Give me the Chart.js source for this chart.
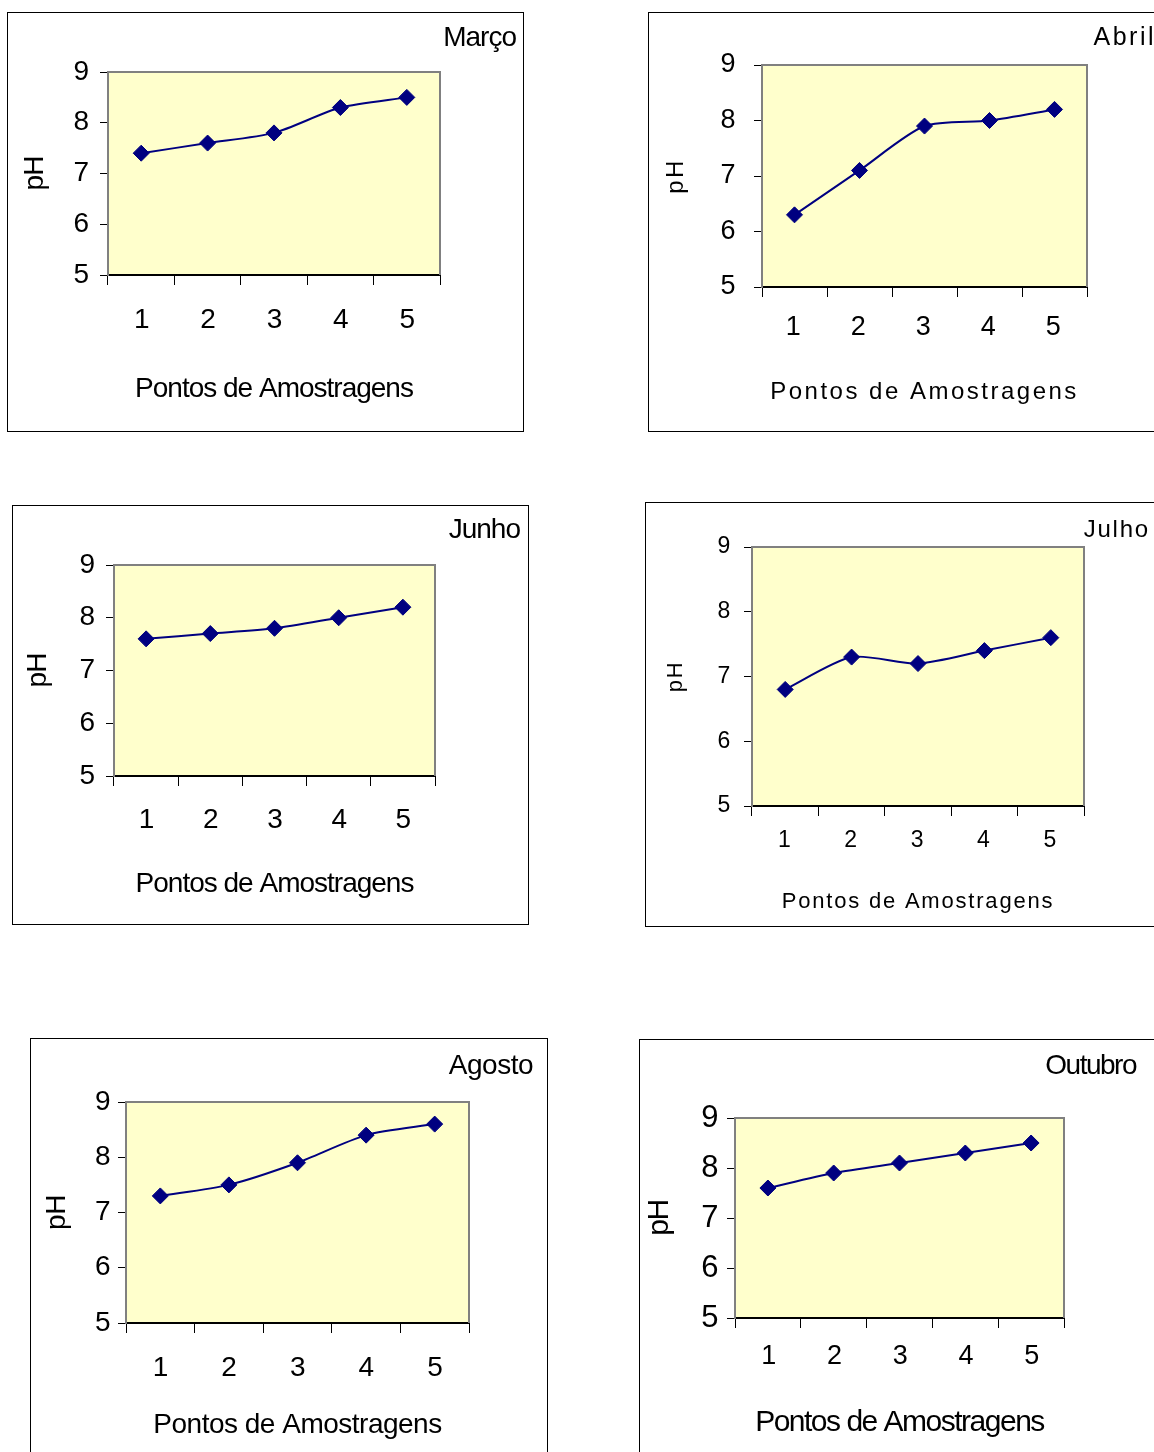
<!DOCTYPE html>
<html>
<head>
<meta charset="utf-8">
<script src="https://cdn.jsdelivr.net/npm/chart.js@4.4.0/dist/chart.umd.min.js"></script>
<style>
html, body { margin: 0; padding: 0; background: #fff; }
body { width: 1154px; height: 1452px; position: relative; overflow: hidden; }
.painel { position: absolute; border: 1px solid #000; box-sizing: border-box; }
.painel canvas { position: absolute; left: -1px; top: -1px; }
</style>
</head>
<body>
<div class="painel" id="p0"><canvas id="c0"></canvas></div>
<div class="painel" id="p1"><canvas id="c1"></canvas></div>
<div class="painel" id="p2"><canvas id="c2"></canvas></div>
<div class="painel" id="p3"><canvas id="c3"></canvas></div>
<div class="painel" id="p4"><canvas id="c4"></canvas></div>
<div class="painel" id="p5"><canvas id="c5"></canvas></div>
<script>
// Dados
const pontos = ["1", "2", "3", "4", "5"];
const meses = ["Março", "Abril", "Junho", "Julho", "Agosto", "Outubro"];
const phMarco = [7.4, 7.6, 7.8, 8.3, 8.5];
const phAbril = [6.3, 7.1, 7.9, 8.0, 8.2];
const phJunho = [7.6, 7.7, 7.8, 8.0, 8.2];
const phJulho = [6.8, 7.3, 7.2, 7.4, 7.6];
const phAgosto = [7.3, 7.5, 7.9, 8.4, 8.6];
const phOutubro = [7.6, 7.9, 8.1, 8.3, 8.5];
const phMin = 5, phMax = 9, phPasso = 1;
const tituloX = "Pontos de Amostragens";
const tituloY = "pH";

const series = [phMarco, phAbril, phJunho, phJulho, phAgosto, phOutubro];

// Layout of each panel (page pixels)
const layouts = [
    { box: [7, 12, 524, 432], area: [108, 72, 440, 275], yTick: 28, xTick: 28, yLabR: 88, xLabY: 320,
      tSize: 28, sp: -1, xTitleY: 389, yTitleX: 35, mRight: 516, mY: 38, mSize: 28 },
    { box: [648, 12, 1170, 432], area: [762, 65, 1087, 287], yTick: 27, xTick: 27, yLabR: 738, xLabY: 328,
      tSize: 24, sp: 2.5, xTitleY: 392, yTitleX: 676, mRight: 1156, mY: 38, mSize: 25 },
    { box: [12, 505, 529, 925], area: [114, 565, 435, 776], yTick: 28, xTick: 28, yLabR: 94, xLabY: 820,
      tSize: 28, sp: -1, xTitleY: 884, yTitleX: 38, mRight: 520, mY: 530, mSize: 28 },
    { box: [645, 502, 1170, 927], area: [752, 547, 1084, 806], yTick: 23, xTick: 23, yLabR: 732, xLabY: 841,
      tSize: 22, sp: 1.8, xTitleY: 902, yTitleX: 676, mRight: 1150, mY: 530, mSize: 24 },
    { box: [30, 1038, 548, 1470], area: [126, 1102, 469, 1323], yTick: 28, xTick: 28, yLabR: 110, xLabY: 1368,
      tSize: 28, sp: -0.5, xTitleY: 1425, yTitleX: 57, mRight: 533, mY: 1066, mSize: 28 },
    { box: [639, 1039, 1170, 1470], area: [735, 1118, 1064, 1318], yTick: 31, xTick: 27, yLabR: 717, xLabY: 1357,
      tSize: 30, sp: -1.5, xTitleY: 1423, yTitleX: 660, mRight: 1136, mY: 1066, mSize: 28 },
];

Chart.defaults.font.family = '"Liberation Sans", Arial, sans-serif';
Chart.defaults.color = "#000";

const fundoPlugin = {
    id: "fundo",
    beforeDraw(chart, args, opts) {
        const { ctx, chartArea: a } = chart;
        ctx.letterSpacing = opts.sp + "px";
        ctx.save();
        ctx.fillStyle = "#FFFFCC";
        ctx.fillRect(a.left, a.top, a.right - a.left, a.bottom - a.top);
        ctx.restore();
    },
    beforeDatasetsDraw(chart) {
        const { ctx, chartArea: a } = chart;
        ctx.save();
        ctx.strokeStyle = "#808080";
        ctx.lineWidth = 2;
        ctx.beginPath();
        ctx.moveTo(a.left, a.top);
        ctx.lineTo(a.right, a.top);
        ctx.lineTo(a.right, a.bottom);
        ctx.stroke();
        ctx.restore();
    },
    afterDraw(chart, args, opts) {
        const ctx = chart.ctx;
        ctx.save();
        ctx.font = opts.mSize + 'px "Liberation Sans", Arial, sans-serif';
        ctx.letterSpacing = opts.sp + "px";
        ctx.fillStyle = "#000";
        ctx.textAlign = "right";
        ctx.textBaseline = "middle";
        ctx.fillText(opts.text, opts.x, opts.y);
        ctx.restore();
    },
};

function montarGrafico(i) {
    const lay = layouts[i];
    const [bl, bt, br, bb] = lay.box;
    const [al, at, ar, ab] = lay.area;
    const painel = document.getElementById("p" + i);
    painel.style.left = bl + "px";
    painel.style.top = bt + "px";
    painel.style.width = br - bl + "px";
    painel.style.height = bb - bt + "px";
    const canvas = document.getElementById("c" + i);
    canvas.width = br - bl;
    canvas.height = bb - bt;

    const xTickLen = 10, yTickLen = 8;

    new Chart(canvas, {
        type: "line",
        data: {
            labels: pontos,
            datasets: [
                {
                    data: series[i],
                    borderColor: "#000080",
                    borderWidth: 2,
                    tension: 0.25,
                    pointStyle: "rectRot",
                    pointRadius: 8,
                    pointBackgroundColor: "#000080",
                    pointBorderColor: "#000080",
                    pointBorderWidth: 1,
                },
            ],
        },
        options: {
            responsive: false,
            animation: false,
            layout: { padding: { left: 0, top: at - bt, right: br - ar, bottom: 0 } },
            plugins: {
                legend: { display: false },
                tooltip: { enabled: false },
                fundo: { sp: lay.sp, text: meses[i], x: lay.mRight - bl, y: lay.mY - bt, mSize: lay.mSize },
            },
            scales: {
                x: {
                    type: "category",
                    offset: true,
                    grid: { offset: true, drawOnChartArea: false, drawTicks: true, tickLength: xTickLen, color: "#000" },
                    border: { display: true, color: "#000", width: 2 },
                    ticks: {
                        font: { size: lay.xTick },
                        color: "#000",
                        maxRotation: 0,
                        autoSkip: false,
                        padding: lay.xLabY - ab - xTickLen - 0.6 * lay.xTick,
                    },
                    title: {
                        display: true,
                        text: tituloX,
                        color: "#000",
                        font: { size: lay.tSize },
                        padding: { top: 0, bottom: bb - lay.xTitleY - 0.6 * lay.tSize },
                    },
                    afterFit: (s) => { s.height = bb - ab; },
                },
                y: {
                    min: phMin,
                    max: phMax,
                    grid: { drawOnChartArea: false, drawTicks: true, tickLength: yTickLen, color: "#000" },
                    border: { display: true, color: "#808080", width: 2 },
                    ticks: {
                        stepSize: phPasso,
                        font: { size: lay.yTick },
                        color: "#000",
                        padding: al - yTickLen - lay.yLabR,
                    },
                    title: {
                        display: true,
                        text: tituloY,
                        color: "#000",
                        font: { size: lay.tSize },
                        padding: { top: lay.yTitleX - bl - 0.6 * lay.tSize, bottom: 0 },
                    },
                    afterFit: (s) => { s.width = al - bl; },
                },
            },
        },
        plugins: [fundoPlugin],
    });
}

layouts.forEach((lay, i) => montarGrafico(i));
</script>
</body>
</html>
